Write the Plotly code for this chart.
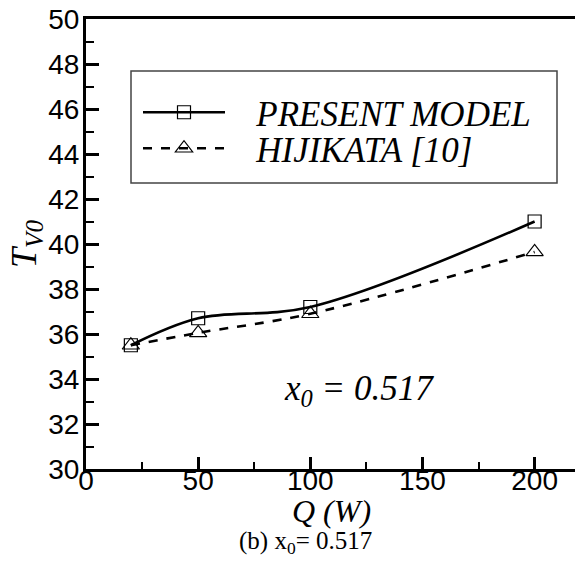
import plotly.graph_objects as go

q_present = [20, 50, 100, 200]
t_present = [35.5, 36.7, 37.2, 41.0]
q_hijikata = [20, 50, 100, 200]
t_hijikata = [35.5, 36.05, 36.9, 39.65]

names = ["PRESENT MODEL", "HIJIKATA [10]"]
y_ticks = list(range(30, 51, 2))
x_ticks = [0, 50, 100, 150, 200]

SERIF = "Liberation Serif, Times New Roman, serif"
SANS = "Liberation Sans, Arial, sans-serif"

W, H = 575, 569
L, T, B, R = 86, 19, 100, 0
pw, ph = W - L - R, H - T - B

def px2paper(x, y):
    return (x - L) / pw, (H - B - y) / ph

pad = "\u00a0\u00a0\u00a0"
fig = go.Figure()
fig.add_trace(go.Scatter(
    x=q_present, y=t_present, name=pad + names[0], mode="lines+markers", legend="legend",
    line=dict(color="black", width=2.6, shape="spline", smoothing=1.0),
    marker=dict(symbol="square-open", size=13, color="black", line=dict(width=1.2)),
))
fig.add_trace(go.Scatter(
    x=q_hijikata, y=t_hijikata, name=pad + names[1], mode="lines+markers", legend="legend2",
    line=dict(color="black", width=2.6, dash="dash", shape="spline", smoothing=1.0),
    marker=dict(symbol="triangle-up-open", size=15, color="black", line=dict(width=1.2)),
))

lx0, ly0 = px2paper(131, 71)
lx1, ly1 = px2paper(557, 183)
fig.add_shape(type="rect", xref="paper", yref="paper", x0=lx0, y0=ly1, x1=lx1, y1=ly0,
              line=dict(color="#444", width=1.5), fillcolor="white", layer="below")

def ann(x, y, text, size, italic=True):
    px, py = px2paper(x, y)
    fig.add_annotation(xref="paper", yref="paper", x=px, y=py, xanchor="center", yanchor="middle",
                       showarrow=False, text=text,
                       font=dict(family=SERIF, size=size, color="black",
                                 style="italic" if italic else "normal"))

ann(359, 390, "x<sub>0</sub> = 0.517", 35)
ann(331, 511, "Q (W)", 32)
ann(305, 542, "(b) x<sub>0</sub>= 0.517", 25, italic=False)

leg_font = dict(family=SERIF, size=35, color="black", style="italic")
l1x, l1y = px2paper(138, 83)
l2x, l2y = px2paper(138, 119)
fig.update_layout(
    width=W, height=H,
    margin=dict(l=L, r=R, t=T, b=B, autoexpand=False),
    plot_bgcolor="white", paper_bgcolor="white",
    showlegend=True,
    legend=dict(x=l1x, y=l1y, xanchor="left", yanchor="top", bgcolor="rgba(0,0,0,0)",
                borderwidth=0, itemwidth=82, font=leg_font),
    legend2=dict(x=l2x, y=l2y, xanchor="left", yanchor="top", bgcolor="rgba(0,0,0,0)",
                 borderwidth=0, itemwidth=82, font=leg_font),
    xaxis=dict(range=[0, 218], tickvals=x_ticks, ticks="inside", ticklen=12, tickwidth=2.5,
               tickcolor="black", showline=True, linecolor="black", linewidth=3, mirror=True,
               showgrid=False, zeroline=False, automargin=False, ticklabelstandoff=-16,
               minor=dict(ticks="inside", ticklen=7, tickwidth=2, dtick=25, tick0=0, tickcolor="black"),
               tickfont=dict(family=SANS, size=28, color="black")),
    yaxis=dict(range=[30, 50], tickvals=y_ticks, ticks="inside", ticklen=13, tickwidth=2.5,
               tickcolor="black", showline=True, linecolor="black", linewidth=3, mirror=False,
               showgrid=False, zeroline=False, automargin=False, ticklabelstandoff=-2,
               minor=dict(ticks="inside", ticklen=8, tickwidth=2, dtick=1, tick0=30, tickcolor="black"),
               tickfont=dict(family=SANS, size=28, color="black"),
               title=dict(text="<i>T<sub>V0</sub></i>", standoff=0,
                          font=dict(family=SERIF, size=36, color="black"))),
)
fig.write_html("out.html", config={"displayModeBar": False},
               post_script="document.body.style.margin='0';document.body.style.overflow='hidden';")
